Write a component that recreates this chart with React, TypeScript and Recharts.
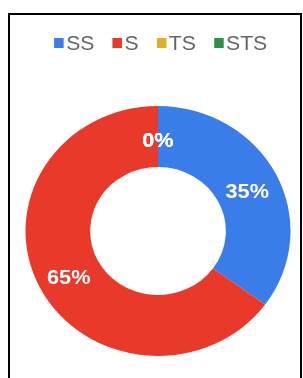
import { PieChart, Pie, Cell, Legend } from "recharts";

const categories = ["SS", "S", "TS", "STS"];
const shares = [35, 65, 0, 0];

const palette = ["#3b7de8", "#e8392b", "#dcb124", "#2e9149"];

const chartData = categories.map((name, i) => ({ name, value: shares[i] }));

const RAD = Math.PI / 180;

function renderLabel(props: any) {
  const { cx, cy, midAngle, innerRadius, outerRadius, percent } = props;
  const r = (innerRadius + outerRadius) / 2;
  const x = cx + r * Math.cos(-midAngle * RAD);
  const y = cy + r * Math.sin(-midAngle * RAD) + 3;
  return (
    <text
      x={x}
      y={y}
      fill="#fff"
      textAnchor="middle"
      dominantBaseline="central"
      fontSize={20.5}
      fontWeight="bold"
      fontFamily="Liberation Sans, Arial, sans-serif"
    >
      {`${Math.round(percent * 100)}%`}
    </text>
  );
}

function renderLegend() {
  return (
    <div
      style={{
        height: 56,
        display: "flex",
        alignItems: "center",
        paddingLeft: 50,
        fontFamily: "Liberation Sans, Arial, sans-serif",
        fontSize: 20,
        color: "#666",
      }}
    >
      {categories.map((c, i) => (
        <div key={c} style={{ display: "flex", alignItems: "center", marginRight: 17 }}>
          <span style={{ width: 9.4, height: 10, background: palette[i], marginRight: 2 }} />
          <span>{c}</span>
        </div>
      ))}
    </div>
  );
}

export default function App() {
  return (
    <div
      style={{
        position: "fixed",
        left: 8,
        top: 13,
        width: 294,
        height: 400,
        border: "2px solid #000",
        boxSizing: "border-box",
        background: "#fff",
      }}
    >
      <div style={{ transform: "scaleX(1.06)", transformOrigin: "148px 0" }}>
        <PieChart width={289} height={370} margin={{ top: 0, right: 0, bottom: 0, left: 0 }}>
          <Legend verticalAlign="top" content={renderLegend} />
          <Pie
            data={chartData}
            dataKey="value"
            nameKey="name"
            cx={148}
            cy={160}
            innerRadius={64}
            outerRadius={125}
            startAngle={90}
            endAngle={-270}
            stroke="none"
            label={renderLabel}
            labelLine={false}
            isAnimationActive={false}
          >
            {chartData.map((d, i) => (
              <Cell key={d.name} fill={palette[i]} />
            ))}
          </Pie>
        </PieChart>
      </div>
    </div>
  );
}
